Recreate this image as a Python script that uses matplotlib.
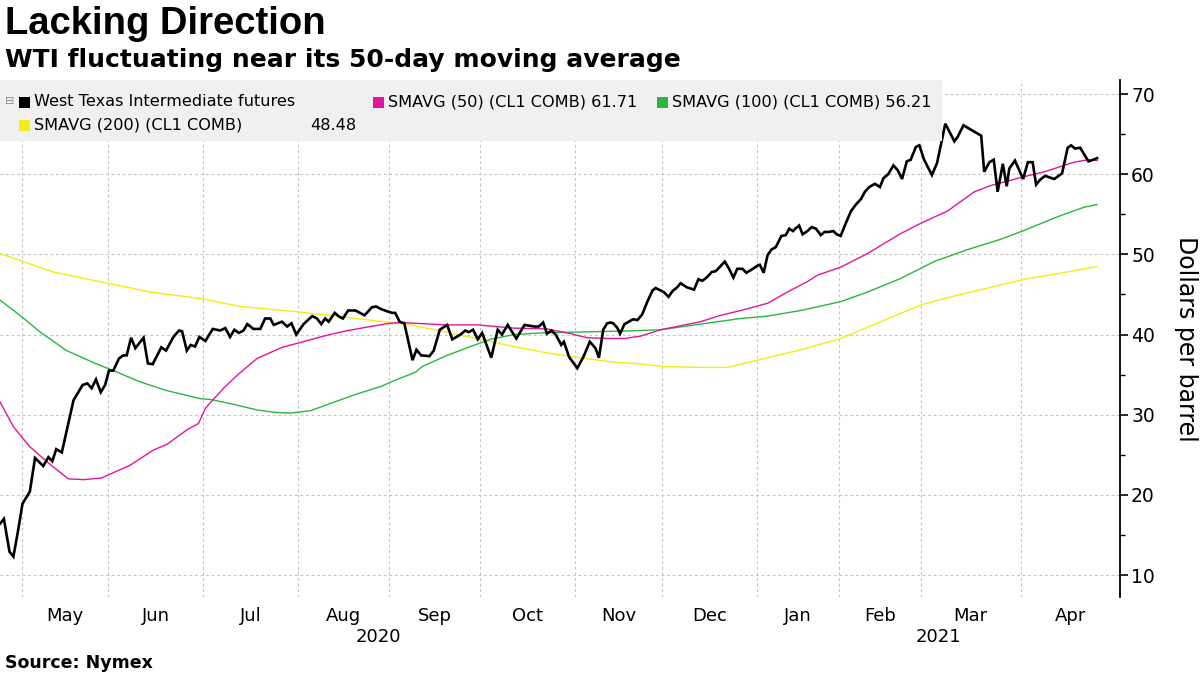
import matplotlib
matplotlib.use("Agg")
import matplotlib.pyplot as plt
from matplotlib.patches import Rectangle
from matplotlib.ticker import MultipleLocator
import matplotlib.transforms as mtransforms

# x values are trading days counted from 24 Apr 2020
wti_day = [0, 0.9, 2.2, 3.1, 4.2, 5.2, 6.9, 8.1, 10.0, 11.2, 12.1, 13.0, 14.3, 17.0,
           19.1, 20.2, 21.2, 22.2, 23.3, 24.3, 25.2, 26.2, 27.5, 28.5, 29.3, 30.3,
           31.3, 33.2, 34.2, 35.3, 37.3, 38.4, 40.1, 41.4, 42.1, 43.2, 44.1, 45.1,
           46.1, 47.5, 49.2, 50.9, 52.1, 53.2, 54.2, 55.2, 56.3, 57.2, 58.6, 60.2,
           61.3, 62.5, 63.3, 65.2, 66.4, 67.4, 68.5, 70.2, 72.2, 73.3, 74.3, 75.2,
           76.0, 77.4, 78.5, 79.3, 80.5, 82.2, 84.3, 86.0, 87.0, 88.0, 89.5, 90.7,
           91.4, 92.4, 93.5, 95.4, 96.3, 97.4, 99.3, 100.3, 101.7, 103.4, 104.6,
           106.5, 107.6, 108.4, 109.4, 110.5, 111.5, 113.6, 115.1, 116.1, 117.4,
           119.4, 121.3, 123.5, 124.6, 125.6, 126.5, 127.5, 128.5, 129.8, 130.4,
           131.6, 133.5, 134.9, 136.4, 137.7, 138.5, 139.5, 140.4, 141.2, 141.8,
           142.8, 143.4, 144.4, 145.4, 146.4, 147.4, 148.5, 149.7, 150.9, 151.6,
           153.5, 154.6, 155.5, 156.6, 157.4, 158.8, 160.5, 161.5, 162.4, 163.4,
           164.6, 165.5, 166.4, 167.6, 168.6, 169.6, 170.5, 171.7, 172.6, 173.8,
           175.2, 175.7, 176.6, 177.5, 178.4, 179.4, 180.7, 181.7, 182.5, 183.4,
           183.9, 184.8, 185.6, 186.7, 187.7, 188.7, 189.8, 190.7, 191.7, 192.7,
           193.5, 194.4, 195.6, 196.8, 197.9, 199.1, 200.0, 201.0, 202.3, 203.5,
           204.3, 205.4, 206.6, 207.6, 208.6, 209.7, 210.6, 211.8, 212.6, 213.7,
           215.5, 216.7, 218.6, 220.7, 221.5, 222.8, 226.9, 227.6, 228.8, 229.8,
           230.7, 231.9, 232.8, 233.4, 234.7, 236.6, 237.7, 238.8, 239.6, 240.5,
           241.7, 242.7, 243.8, 245.6, 246.9, 247.7, 248.6, 249.8, 251.7, 252.8,
           253.7]
wti_px = [16.4, 17.0, 12.9, 12.3, 15.6, 18.9, 20.4, 24.6, 23.6, 24.7, 24.2, 25.7, 25.3, 31.8,
          33.7, 33.9, 33.3, 34.4, 32.8, 33.7, 35.5, 35.5, 37.0, 37.4, 37.4, 39.6,
          38.3, 39.6, 36.4, 36.3, 38.4, 38.0, 39.7, 40.5, 40.4, 38.0, 38.7, 38.5,
          39.7, 39.2, 40.7, 40.5, 40.8, 39.7, 40.6, 40.2, 40.5, 41.3, 40.7, 40.7,
          42.0, 42.0, 41.2, 41.6, 41.0, 41.4, 40.0, 41.3, 42.3, 42.0, 41.3, 42.0,
          41.6, 42.7, 42.2, 42.0, 43.0, 43.0, 42.4, 43.4, 43.5, 43.2, 42.9, 42.7,
          42.7, 41.6, 41.4, 36.8, 38.1, 37.4, 37.3, 38.0, 40.6, 41.2, 39.4,
          40.0, 40.5, 40.3, 40.6, 39.4, 40.2, 37.1, 40.6, 40.0, 41.2,
          39.5, 41.2, 41.0, 41.0, 41.5, 40.1, 40.5, 40.0, 38.7, 39.1,
          37.2, 35.8, 37.2, 39.1, 38.3, 37.1, 40.6, 41.4, 41.5, 41.4,
          40.8, 40.1, 41.3, 41.6, 41.9, 41.8, 42.5, 44.1, 45.5, 45.8,
          45.3, 44.7, 45.4, 45.9, 46.4, 45.9, 45.6, 46.9, 46.7, 47.1,
          47.8, 47.9, 48.4, 49.1, 48.2, 47.1, 48.2, 48.2, 47.7, 48.1,
          48.6, 48.7, 47.7, 49.9, 50.6, 50.9, 52.3, 52.4, 53.2, 52.9,
          53.2, 53.6, 52.5, 52.9, 53.4, 53.2, 52.4, 52.8, 52.8, 52.9,
          52.5, 52.3, 53.9, 55.4, 56.2, 56.9, 57.8, 58.4, 58.8, 58.4,
          59.5, 60.0, 61.1, 60.5, 59.4, 61.6, 61.8, 63.4, 63.6, 61.8,
          59.9, 61.4, 66.3, 64.1, 64.7, 66.1, 64.8, 60.3, 61.5, 61.8,
          57.8, 61.3, 58.5, 60.7, 61.7, 59.4, 61.5, 61.5, 58.7, 59.3,
          59.8, 59.6, 59.4, 60.1, 63.3, 63.6, 63.2, 63.3, 61.6, 61.8,
          62.0]

sma50_day = [0, 3.1, 6.9, 11.6, 15.8, 19.3, 23.5, 25.5, 30.1, 35.5, 38.6, 43.2, 45.9,
             47.5, 49.0, 51.7, 54.8, 59.4, 65.2, 69.4, 74.8, 79.5, 85.6, 90.1, 92.6,
             103.4, 110.3, 118.8, 126.5, 131.2, 135.8, 141.2, 144.3, 148.1, 152.8,
             157.4, 162.0, 166.7, 171.3, 177.5, 182.1, 186.7, 189.0, 194.4, 200.6,
             208.3, 213.0, 219.1, 225.3, 229.2, 236.9, 241.5, 248.4, 251.6, 253.7]
sma50_px = [31.6, 28.5, 26.0, 23.8, 22.0, 21.9, 22.1, 22.6, 23.7, 25.6, 26.3, 28.1, 28.9,
            30.8, 31.7, 33.3, 34.9, 37.0, 38.4, 39.0, 39.8, 40.4, 41.0, 41.4, 41.5,
            41.2, 41.2, 40.8, 40.7, 40.2, 39.6, 39.5, 39.5, 39.8, 40.6,
            41.1, 41.6, 42.4, 43.0, 43.9, 45.3, 46.6, 47.4, 48.4, 50.1,
            52.6, 53.9, 55.4, 57.8, 58.6, 59.7, 60.3, 61.5, 61.8, 61.71]

sma100_day = [0, 4.6, 9.3, 15.4, 21.6, 26.2, 32.4, 38.6, 46.3, 48.6, 54.0, 59.4, 63.3,
              67.1, 71.8, 76.4, 82.6, 88.0, 91.8, 96.1, 97.6, 103.4, 108.8, 113.4,
              118.8, 125.0, 141.2, 148.1, 152.8, 162.0, 171.3, 177.5, 185.2, 194.4,
              200.6, 208.3, 216.0, 223.8, 231.5, 236.9, 244.6, 250.8, 253.7]
sma100_px = [44.3, 42.4, 40.3, 38.0, 36.5, 35.5, 34.1, 33.0, 32.0, 31.9, 31.3, 30.6, 30.3,
             30.2, 30.5, 31.4, 32.6, 33.5, 34.4, 35.3, 36.0, 37.4, 38.5, 39.4,
             40.0, 40.2, 40.4, 40.5, 40.6, 41.3, 42.0, 42.3, 43.0, 44.1,
             45.3, 47.0, 49.1, 50.6, 51.9, 53.0, 54.7, 55.9, 56.21]

sma200_day = [0, 5.4, 12.3, 23.1, 34.7, 46.3, 55.6, 69.4, 81.0, 90.1, 94.9, 103.4,
              111.1, 118.8, 126.5, 134.3, 141.2, 146.6, 153.5, 162.0, 168.2, 173.6,
              177.5, 182.1, 185.2, 189.8, 194.4, 204.5, 213.0, 219.9, 227.6, 236.9,
              244.6, 253.7]
sma200_px = [50.1, 49.1, 47.8, 46.6, 45.3, 44.5, 43.5, 42.8, 42.1, 41.5, 41.2, 40.3,
             39.4, 38.5, 37.7, 37.1, 36.6, 36.4, 36.0, 35.9, 35.9, 36.6,
             37.1, 37.7, 38.1, 38.8, 39.5, 41.8, 43.7, 44.7, 45.7, 46.9,
             47.6, 48.48]

month_starts = [5, 25, 47, 69, 90, 111, 133, 153, 175, 194, 213, 236]
month_names = ["May", "Jun", "Jul", "Aug", "Sep", "Oct", "Nov", "Dec", "Jan", "Feb", "Mar", "Apr"]
years = ["2020", "2021"]
year_bounds = [0, 175, 259]
last_day = 259

legend_labels = ["West Texas Intermediate futures", "SMAVG (50) (CL1 COMB) 61.71",
                 "SMAVG (100) (CL1 COMB) 56.21", "SMAVG (200) (CL1 COMB)"]
legend_last = "48.48"

col_wti = "#000000"
col_50 = "#e3169b"
col_100 = "#2ab63f"
col_200 = "#f2ee12"

plt.rcParams['font.family'] = ['DejaVu Sans']

fig = plt.figure(figsize=(12, 6.75), dpi=100)
ax = fig.add_axes([0, (675 - 597) / 675, 1120 / 1200, (597 - 80) / 675])

ax.plot(sma200_day, sma200_px, color=col_200, lw=1.0, zorder=3)
ax.plot(sma100_day, sma100_px, color=col_100, lw=1.0, zorder=3)
ax.plot(sma50_day, sma50_px, color=col_50, lw=1.0, zorder=4)
ax.plot(wti_day, wti_px, color=col_wti, lw=1.9, zorder=5, solid_joinstyle='miter')

ax.set_xlim(0, last_day)
ax.set_ylim(7.26, 71.75)

# axes styling
for s in ["left", "top", "bottom"]:
    ax.spines[s].set_visible(False)
ax.spines["right"].set_linewidth(1.3)
ax.yaxis.tick_right()
ax.yaxis.set_minor_locator(MultipleLocator(5))
ax.set_yticks(range(10, 71, 10))
ax.tick_params(axis='y', which='major', length=6, width=1.2, labelsize=13.5, pad=2)
ax.tick_params(axis='y', which='minor', length=3.5, width=1.0)

ax.set_xticks(month_starts)
ax.set_xticklabels([])
ax.tick_params(axis='x', which='major', length=0)
centers = [(a + b) / 2 for a, b in zip(month_starts, month_starts[1:] + [last_day])]
ax.set_xticks(centers, minor=True)
ax.set_xticklabels(month_names, minor=True)
ax.tick_params(axis='x', which='minor', length=0, labelsize=13, pad=7)

ax.grid(True, which='major', color='#c4c4c4', lw=0.8, ls=(0, (2.5, 2.5)))

trans = mtransforms.blended_transform_factory(ax.transData, ax.transAxes)
for i, yr in enumerate(years):
    ax.text((year_bounds[i] + year_bounds[i + 1]) / 2, -0.077, yr, transform=trans,
            ha='center', va='center', fontsize=13)

ax.yaxis.set_label_position('right')
ax.set_ylabel("Dollars per barrel", rotation=270, fontsize=17, labelpad=31)

# titles
fig.text(5 / 1200, 1 - 24 / 675, "Lacking Direction", fontsize=27.5, fontweight='bold',
         family='Liberation Sans', va='center', ha='left')
fig.text(5 / 1200, 1 - 60 / 675, "WTI fluctuating near its 50-day moving average",
         fontsize=18, fontweight='bold', va='center', ha='left')
fig.text(5 / 1200, 1 - 663 / 675, "Source: Nymex", fontsize=12.5, fontweight='bold',
         va='center', ha='left')

# legend box
fig.patches.append(Rectangle((0, 1 - 141 / 675), 942 / 1200, 61 / 675,
                             transform=fig.transFigure, facecolor='#f0f0f0',
                             edgecolor='none', zorder=1))
entries = [(19, 102, col_wti, legend_labels[0]),
           (373, 102, col_50, legend_labels[1]),
           (657, 102, col_100, legend_labels[2]),
           (19, 125, col_200, legend_labels[3])]
for x0, y0, c, lab in entries:
    fig.patches.append(Rectangle((x0 / 1200, 1 - (y0 + 5.5) / 675), 11 / 1200, 11 / 675,
                                 transform=fig.transFigure, facecolor=c,
                                 edgecolor='none', zorder=2))
    fig.text((x0 + 15) / 1200, 1 - y0 / 675, lab, fontsize=11.6, va='center', ha='left',
             zorder=3)
fig.text(356 / 1200, 1 - 125 / 675, legend_last, fontsize=11.6, va='center', ha='right',
         zorder=3)
fig.text(10 / 1200, 1 - 101 / 675, "\u229f", fontsize=8, color='#888888', va='center',
         ha='center', zorder=3)

fig.savefig("out.png", dpi=100)
